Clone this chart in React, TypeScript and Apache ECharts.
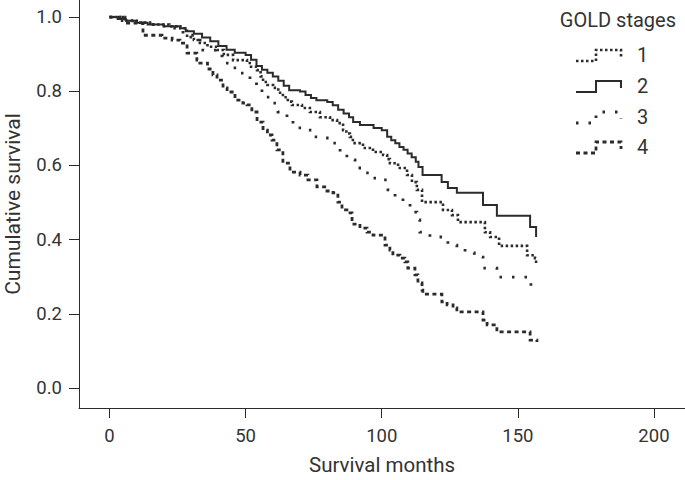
import React, { useEffect, useRef } from "react";
import * as echarts from "echarts";

const stageNames = ["1", "2", "3", "4"];

const months1 = [0, 4, 10, 16, 22, 26, 28.5, 31, 33.2, 36, 39.5, 42, 45.4, 50.5, 52, 54.2, 55.5, 56.4, 58, 60.1, 62, 63.7, 65.5, 67, 70.7, 73.6, 77.3, 81, 83.6, 85.8, 87, 88.3, 89.4, 93.1, 96.8, 100.5, 102, 103, 106, 109.3, 111.1, 112.9, 114.8, 122.5, 125.8, 128, 137.9, 139.8, 143.1, 153.4, 156.3, 156.7];
const surv1 = [1.0, 0.99, 0.985, 0.98, 0.975, 0.97, 0.946, 0.938, 0.93, 0.92, 0.911, 0.898, 0.884, 0.876, 0.866, 0.857, 0.84, 0.825, 0.817, 0.809, 0.796, 0.784, 0.772, 0.763, 0.755, 0.744, 0.73, 0.722, 0.714, 0.695, 0.686, 0.677, 0.66, 0.647, 0.636, 0.628, 0.617, 0.606, 0.593, 0.574, 0.555, 0.534, 0.501, 0.48, 0.466, 0.447, 0.42, 0.407, 0.383, 0.358, 0.35, 0.332];

const months2 = [0, 3, 6, 10, 14, 20, 26, 28, 31, 34, 37, 40, 43, 46, 50, 52, 54, 56, 58, 60, 62, 64, 66, 70, 72, 74, 76, 80, 82, 84, 86, 88, 89.5, 92, 97, 100, 102, 103.5, 105, 106.5, 108, 109.5, 111, 112.5, 113.5, 115, 122, 124.3, 127.6, 137.2, 142.3, 154.5, 156.7];
const surv2 = [1.0, 0.995, 0.99, 0.985, 0.98, 0.975, 0.97, 0.962, 0.955, 0.945, 0.935, 0.922, 0.912, 0.904, 0.898, 0.885, 0.868, 0.858, 0.85, 0.84, 0.828, 0.815, 0.803, 0.799, 0.79, 0.782, 0.776, 0.771, 0.762, 0.75, 0.74, 0.73, 0.717, 0.709, 0.701, 0.695, 0.677, 0.668, 0.66, 0.65, 0.642, 0.632, 0.622, 0.61, 0.596, 0.574, 0.555, 0.539, 0.526, 0.493, 0.464, 0.434, 0.407];

const months3 = [0, 5, 12, 20, 27, 32.1, 34.3, 39.5, 41.3, 44.3, 47.9, 51.6, 54, 56, 59.7, 61.9, 65.2, 67.4, 71.8, 74.7, 78.1, 81.7, 84.7, 87.2, 90.2, 93.1, 96.8, 100.5, 102.3, 104.9, 107.8, 110.4, 112.9, 114, 117.7, 124.3, 127.6, 130.6, 134, 137.2, 142.3, 153.4, 154.8];
const surv3 = [1.0, 0.99, 0.98, 0.97, 0.951, 0.938, 0.911, 0.903, 0.876, 0.863, 0.849, 0.83, 0.805, 0.784, 0.768, 0.744, 0.722, 0.701, 0.695, 0.677, 0.674, 0.66, 0.636, 0.615, 0.593, 0.58, 0.566, 0.561, 0.534, 0.512, 0.499, 0.474, 0.453, 0.42, 0.407, 0.385, 0.377, 0.364, 0.353, 0.323, 0.299, 0.291, 0.27];

const months4 = [0, 5.7, 12.3, 19.3, 23, 25.9, 28.5, 32.1, 33.2, 36, 38, 39.5, 41.7, 43.2, 46.1, 49, 50.5, 52.3, 54.2, 56.4, 58, 59.7, 61.5, 63.7, 66.3, 70, 72.9, 76.2, 79.9, 82.1, 83.9, 85.4, 87.2, 89.1, 92, 94.6, 96.8, 101.2, 103, 104.1, 106.7, 108.5, 109.6, 112.2, 113.3, 114.8, 115.1, 122.1, 124, 126.2, 127.6, 137.2, 138.7, 142.3, 154.5, 157];
const surv4 = [1.0, 0.984, 0.951, 0.943, 0.938, 0.93, 0.903, 0.884, 0.876, 0.86, 0.844, 0.83, 0.809, 0.798, 0.776, 0.768, 0.763, 0.744, 0.717, 0.695, 0.682, 0.668, 0.642, 0.606, 0.582, 0.574, 0.561, 0.542, 0.531, 0.526, 0.501, 0.48, 0.472, 0.442, 0.431, 0.42, 0.412, 0.385, 0.372, 0.358, 0.35, 0.34, 0.323, 0.305, 0.283, 0.264, 0.253, 0.232, 0.224, 0.216, 0.205, 0.183, 0.17, 0.151, 0.129, 0.124];

const xTicks = [0, 50, 100, 150, 200];
const yTicks = [0, 0.2, 0.4, 0.6, 0.8, 1.0];

const FONT = "Roboto";
const INK = "#2b2b2b";
const TEXT = "#333333";

const dashes: any[] = [[2.5, 2.5], "solid", [2.5, 10], [4, 3.5]];
const widths = [2.6, 2, 2.8, 2.8];

export default function App() {
  const ref = useRef<HTMLDivElement>(null);
  useEffect(() => {
    if (!ref.current) return;
    const chart = echarts.init(ref.current, null, { renderer: "svg" });
    const allMonths = [months1, months2, months3, months4];
    const allSurv = [surv1, surv2, surv3, surv4];
    const series = stageNames.map((name, i) => ({
      name,
      type: "line",
      step: "end",
      showSymbol: false,
      symbol: "none",
      data: allMonths[i].map((m, j) => [m, allSurv[i][j]]),
      lineStyle: { color: INK, width: widths[i], type: dashes[i], cap: "butt", join: "miter" },
      z: 3,
    }));

    const legendTop = [55, 86, 117, 147];
    const graphic: any[] = [
      {
        type: "text",
        x: 676,
        y: 20,
        style: { text: "GOLD stages", font: `20px ${FONT}`, fill: TEXT, align: "right", verticalAlign: "middle" },
      },
    ];
    stageNames.forEach((name, i) => {
      const c = legendTop[i];
      graphic.push({
        type: "polyline",
        shape: { points: [[576, c + 6], [596, c + 6], [596, c - 5], [621, c - 5], [621, c + 2]] },
        style: { stroke: INK, lineWidth: widths[i], lineDash: dashes[i] === "solid" ? null : dashes[i], fill: null },
      });
      graphic.push({
        type: "text",
        x: 637,
        y: c,
        style: { text: name, font: `20px ${FONT}`, fill: TEXT, align: "left", verticalAlign: "middle" },
      });
    });

    chart.setOption({
      animation: false,
      backgroundColor: "#ffffff",
      grid: { left: 79, right: 0, top: 0, bottom: 72, containLabel: false, outerBoundsMode: "none" },
      xAxis: {
        type: "value",
        min: -11.2,
        max: 211.4,
        name: "Survival months",
        nameLocation: "middle",
        nameGap: 46,
        nameTextStyle: { fontFamily: FONT, fontSize: 20.5, color: TEXT },
        axisLine: { show: true, onZero: false, lineStyle: { color: INK, width: 1 } },
        axisTick: { show: true, length: 10, customValues: xTicks, lineStyle: { color: INK } },
        axisLabel: { customValues: xTicks, margin: 18, fontFamily: FONT, fontSize: 18.5, color: TEXT },
        splitLine: { show: false },
      },
      yAxis: {
        type: "value",
        min: -0.054,
        max: 1.046,
        name: "Cumulative survival",
        nameLocation: "middle",
        nameGap: 56,
        nameTextStyle: { fontFamily: FONT, fontSize: 21, color: TEXT },
        axisLine: { show: true, onZero: false, lineStyle: { color: INK, width: 1 } },
        axisTick: { show: true, length: 10, customValues: yTicks, lineStyle: { color: INK } },
        axisLabel: {
          customValues: yTicks,
          margin: 17,
          fontFamily: FONT,
          fontSize: 18.5,
          color: TEXT,
          formatter: (v: number) => v.toFixed(1),
        },
        splitLine: { show: false },
      },
      series,
      graphic,
    });
    return () => chart.dispose();
  }, []);
  return <div ref={ref} style={{ width: 685, height: 480, position: "absolute", left: 0, top: 0 }} />;
}
